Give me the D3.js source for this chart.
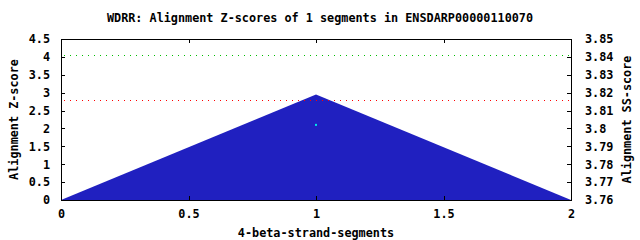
<!DOCTYPE html>
<html>
<head>
<meta charset="utf-8">
<script src="https://cdn.jsdelivr.net/npm/d3@7"></script>
<style>
  body { margin: 0; background: #fff; }
  svg text { font-family: "DejaVu Sans Mono", monospace; font-size: 11.8px; font-weight: bold; fill: #000; }
</style>
</head>
<body>
<svg id="chart" width="640" height="240"></svg>
<script>
// chart data
const segments = [0, 1, 2];
const zScores = [0, 2.95, 0];
const ssPoints = [{ x: 1, ss: 3.802 }];
const thresholds = [
    { value: 4.05, color: '#00c000' },
    { value: 2.79, color: '#ff0000' }
];
const xTicks = [0, 0.5, 1, 1.5, 2];
const yTicks = [0, 0.5, 1, 1.5, 2, 2.5, 3, 3.5, 4, 4.5];
const y2Ticks = [3.76, 3.77, 3.78, 3.79, 3.8, 3.81, 3.82, 3.83, 3.84, 3.85];

const svg = d3.select('#chart');
const margin = { top: 39, right: 69, bottom: 40, left: 61 };
const width = 640 - margin.left - margin.right;
const height = 240 - margin.top - margin.bottom;

const g = svg.append('g')
    .attr('transform', `translate(${margin.left},${margin.top})`);

const x = d3.scaleLinear().domain([0, 2]).range([0, width]);
const y = d3.scaleLinear().domain([0, 4.5]).range([height, 0]);
const y2 = d3.scaleLinear().domain([3.76, 3.85]).range([height, 0]);

// Title
svg.append('text')
    .attr('x', 320)
    .attr('y', 22)
    .attr('text-anchor', 'middle')
    .text('WDRR: Alignment Z-scores of 1 segments in ENSDARP00000110070');

// Filled z-score area
const area = d3.area()
    .x((d, i) => x(segments[i]))
    .y0(y(0))
    .y1(d => y(d));

g.append('path')
    .datum(zScores)
    .attr('d', area)
    .attr('fill', '#2020c0');

// Threshold lines, drawn as gnuplot-style pixel dots
thresholds.forEach(t => {
    const ty = Math.round(y(t.value));
    g.append('g')
        .selectAll('rect')
        .data(d3.range(3, width, 6))
        .enter()
        .append('rect')
        .attr('x', d => d)
        .attr('y', ty)
        .attr('width', 1)
        .attr('height', 1)
        .attr('fill', t.color);
});

// SS-score points
g.selectAll('.ss-point')
    .data(ssPoints)
    .enter()
    .append('rect')
    .attr('x', d => x(d.x) - 1)
    .attr('y', d => y2(d.ss) - 1)
    .attr('width', 2)
    .attr('height', 2)
    .attr('fill', '#00e8e8');

// Axes with inward ticks
const tickLen = 4;
const bottomAxis = g.append('g')
    .attr('transform', `translate(0,${height})`)
    .call(d3.axisBottom(x).tickValues(xTicks).tickSize(-tickLen).tickPadding(10).tickFormat(d3.format('')));
const topAxis = g.append('g')
    .call(d3.axisTop(x).tickValues(xTicks).tickSize(-tickLen).tickFormat(''));
const leftAxis = g.append('g')
    .call(d3.axisLeft(y).tickValues(yTicks).tickSize(-tickLen).tickPadding(11).tickFormat(d3.format('')));
const rightAxis = g.append('g')
    .attr('transform', `translate(${width},0)`)
    .call(d3.axisRight(y2).tickValues(y2Ticks).tickSize(-tickLen).tickPadding(14).tickFormat(d3.format('')));

[bottomAxis, topAxis, leftAxis, rightAxis].forEach(a => {
    a.select('.domain').attr('stroke', '#000').attr('stroke-width', 1).attr('shape-rendering', 'crispEdges');
    a.selectAll('.tick line').attr('stroke', '#000').attr('shape-rendering', 'crispEdges');
    a.selectAll('text')
        .style('font-family', '"DejaVu Sans Mono", monospace')
        .style('font-size', '11.8px')
        .style('font-weight', 'bold');
});

// Axis labels
svg.append('text')
    .attr('x', margin.left + width / 2)
    .attr('y', 237)
    .attr('text-anchor', 'middle')
    .text('4-beta-strand-segments');

svg.append('text')
    .attr('transform', `translate(18,${margin.top + height / 2}) rotate(-90)`)
    .attr('text-anchor', 'middle')
    .text('Alignment Z-score');

svg.append('text')
    .attr('transform', `translate(631,${margin.top + height / 2}) rotate(-90)`)
    .attr('text-anchor', 'middle')
    .text('Alignment SS-score');
</script>
</body>
</html>
